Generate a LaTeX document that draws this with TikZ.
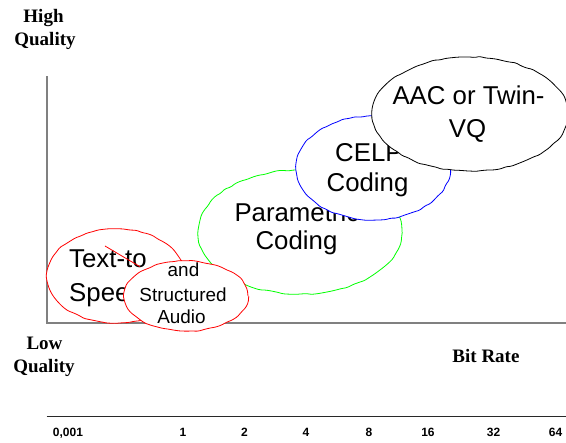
\documentclass[tikz,border=0pt]{standalone}
\usepackage{fontspec}
\setmainfont{Liberation Serif}
\newfontfamily\arialfont{Liberation Sans}
\usetikzlibrary{shapes.geometric,decorations.pathmorphing}
\definecolor{axisgray}{RGB}{128,128,128}
\definecolor{scaleline}{RGB}{40,40,40}

\begin{document}
\begin{tikzpicture}[x=1pt,y=-1pt,
  blob/.style={ellipse, inner sep=0pt, fill=white, draw=#1, line width=0.8pt,
    decorate, decoration={random steps,segment length=6pt,amplitude=0.7pt},
    rounded corners=1.5pt},
  big/.style={font=\arialfont\fontsize{25.8}{30}\selectfont, inner sep=0pt, anchor=base},
  small/.style={font=\arialfont\fontsize{18.9}{23}\selectfont, inner sep=0pt, anchor=base},
  qual/.style={font=\bfseries\fontsize{19}{23}\selectfont, inner sep=0pt, anchor=base},
  ticklbl/.style={font=\arialfont\bfseries\fontsize{12}{14}\selectfont, inner sep=0pt, anchor=base},
]
\pgfmathsetseed{7}
\useasboundingbox (0,0) rectangle (566,443);

% quality / bit-rate axes
\coordinate (ytop) at (46.7,76.5);
\coordinate (origin) at (46.7,323.5);
\coordinate (xend) at (566,323.5);
\draw[axisgray, line width=2pt] (ytop) -- (origin) -- (xend);

% bit-rate scale
\coordinate (s0) at (46.7,416.7);
\coordinate (s1) at (566,416.7);
\draw[scaleline, line width=1.3pt] (s0) -- (s1);

% axis labels
\node[qual] (hi1) at (43.5,22.7) {High};
\node[qual] (hi2) at (45,45.7) {Quality};
\node[qual] (lo1) at (44.5,350) {Low};
\node[qual] (lo2) at (44,372.7) {Quality};
\node[qual] (br) at (486,362.7) {Bit Rate};

% scale values (kbit/s)
\node[ticklbl] (t0) at (68,436.7) {0,001};
\node[ticklbl] (t1) at (183,436.7) {1};
\node[ticklbl] (t2) at (244.5,436.7) {2};
\node[ticklbl] (t4) at (306,436.7) {4};
\node[ticklbl] (t8) at (369,436.7) {8};
\node[ticklbl] (t16) at (428,436.7) {16};
\node[ticklbl] (t32) at (493.5,436.7) {32};
\node[ticklbl] (t64) at (555.5,436.7) {64};

% parametric coding
\node[blob=green, minimum width=204pt, minimum height=124pt] (par) at (300,232) {};
\node[big, anchor=base west] (par1) at (234.3,222) {Parametric};
\node[big] (par2) at (296.5,250) {Coding};

% CELP coding
\node[blob=blue, minimum width=154pt, minimum height=104pt] (celp) at (373,168) {};
\node[big, anchor=base west] (celp1) at (335,162) {CELP};
\node[big] (celp2) at (367.5,191.7) {Coding};

% AAC / Twin-VQ
\node[blob=black, minimum width=196pt, minimum height=114pt] (aac) at (470,114) {};
\node[big] (aac1) at (468.5,105) {AAC or Twin-};
\node[big] (aac2) at (467.5,138) {VQ};

% text-to-speech
\node[blob=red, minimum width=138pt, minimum height=94pt] (tts) at (116,276) {};
\node[big, anchor=base west] (tts1) at (69,268) {Text-to};
\node[big, anchor=base west] (tts2) at (69,302) {Speech};
\coordinate (m1) at (105,246);
\coordinate (m2) at (140,266.7);
\draw[red, line width=0.8pt] (m1) -- (m2);

% structured audio
\node[blob=red, minimum width=124pt, minimum height=70pt] (sa) at (186,296) {};
\node[small] (sa1) at (183.5,277) {and};
\node[small] (sa2) at (183,302) {Structured};
\node[small] (sa3) at (181.5,324) {Audio};
\end{tikzpicture}
\end{document}
